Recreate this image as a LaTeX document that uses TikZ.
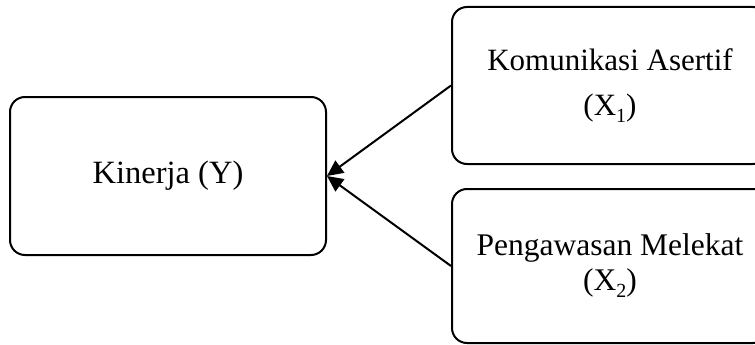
\documentclass[tikz,border=0pt]{standalone}
\usepackage{fontspec}
\setmainfont{Liberation Serif}
\usetikzlibrary{arrows.meta}
\newcommand{\subx}[1]{\raisebox{-0.22em}{\fontsize{20}{20}\selectfont #1}}
\begin{document}
\begin{tikzpicture}[x=1pt,y=-1pt,
  varbox/.style={draw=black, line width=2pt, rounded corners=15pt, fill=white,
    minimum width=316pt, inner sep=0pt, align=center},
  link/.style={draw=black, line width=2pt, -{Triangle[length=16pt,width=15pt]}}]
\useasboundingbox (0,0) rectangle (755,345);
\node[varbox, minimum height=158pt, font=\fontsize{32.5}{36}\selectfont] (y) at (168,176) {Kinerja (Y)};
\node[varbox, minimum height=157pt, font=\fontsize{31}{45}\selectfont] (x1) at (610,85.5) {Komunikasi Asertif\\(X\subx{1})};
\node[varbox, minimum height=154pt, font=\fontsize{31.5}{35}\selectfont] (x2) at (610,266) {Pengawasan Melekat\\(X\subx{2})};
\draw[link] (x1.west) -- (y.east);
\draw[link] (x2.west) -- (y.east);
\end{tikzpicture}
\end{document}
